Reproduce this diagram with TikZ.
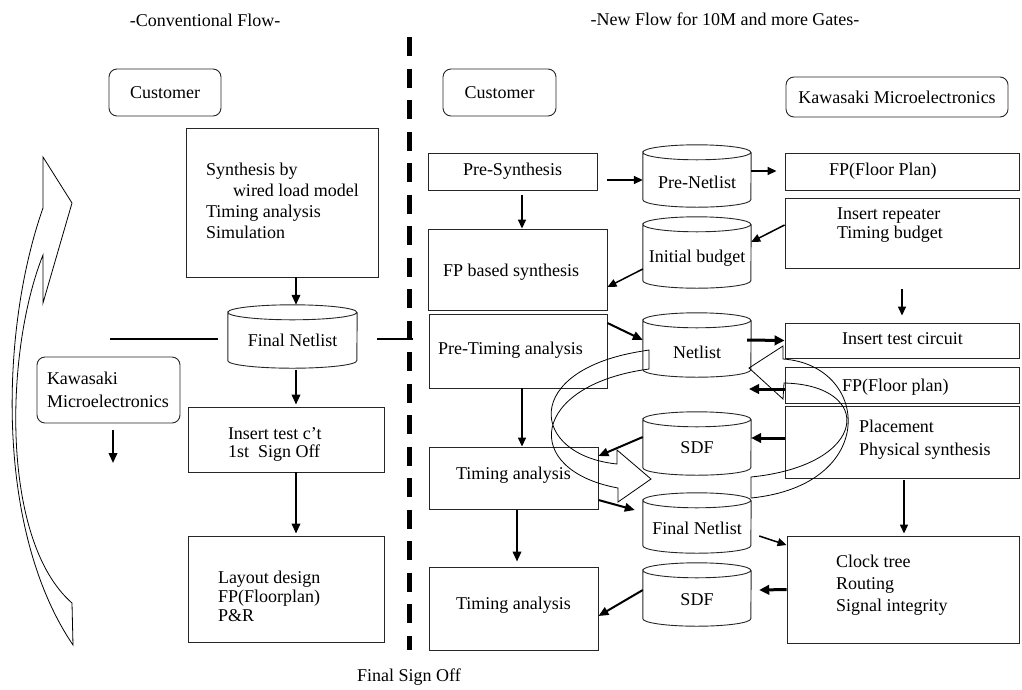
\documentclass[tikz,border=0pt]{standalone}
\usepackage{fontspec}
\setmainfont{Liberation Serif}
\usetikzlibrary{arrows.meta}
\newcommand\boxtxt[4]{\raisebox{#1}[\height][\depth]{\makebox[#2][l]{\renewcommand\arraystretch{#3}\begin{tabular}{@{}l@{}}#4\end{tabular}}}}
\newcommand\shtxt[2]{\raisebox{#1}[\height][\depth]{#2}}
\newcommand\drawcyl[2]{\draw[cylline] ([yshift=-7.5pt]#1.north west) arc[start angle=180,end angle=-180,x radius=#2,y radius=7.5pt] -- ([yshift=7.5pt]#1.south west) arc[start angle=180,end angle=360,x radius=#2,y radius=7.5pt] -- ([yshift=-7.5pt]#1.north east);}
\tikzset{
 lbl/.style={font=\fontsize{18}{21}\selectfont, inner sep=0pt},
 mybox/.style={lbl, draw=black!85, line width=0.9pt, rectangle},
 myrbox/.style={mybox, rounded corners=8pt},
 cylnode/.style={lbl, rectangle},
 cylline/.style={draw=black!85, line width=0.9pt},
 arr/.style={line width=1.5pt, -{Triangle[length=9pt,width=8pt]}},
 arrm/.style={line width=2pt, -{Triangle[length=10pt,width=8.5pt]}},
 arrk/.style={line width=3pt, -{Triangle[length=10pt,width=9.5pt]}},
 loopline/.style={line width=0.8pt, line join=miter},
 dashline/.style={line width=5pt, dash pattern=on 19pt off 12.5pt},
 hline/.style={line width=1.6pt},
}
\begin{document}
\begin{tikzpicture}[x=1pt,y=-1pt]
\useasboundingbox (0,0) rectangle (1022,689);
% titles
\node[lbl] (titleL) at (205,20) {-Conventional Flow-};
\node[lbl] (titleR) at (725,19) {-New Flow for 10M and more Gates-};
% divider
\coordinate (dtop) at (409,37);
\coordinate (dbot) at (409,650);
\draw[dashline] (dtop) -- (dbot);
% left column
\node[myrbox, minimum width=112pt, minimum height=47pt] (custL) at (165,92.5) {Customer};
\node[mybox, minimum width=192pt, minimum height=149pt] (synth) at (282,202.5) {\boxtxt{0pt}{152pt}{1.0}{Synthesis by\\\hspace*{27pt}wired load model\\Timing analysis\\Simulation}};
\node[cylnode, minimum width=129pt, minimum height=63pt] (fnL) at (292.5,336.5) {\shtxt{-3.5pt}{Final Netlist}};
\drawcyl{fnL}{64.5pt}
\node[myrbox, minimum width=143pt, minimum height=66pt] (kawL) at (108.5,390) {\boxtxt{-1.5pt}{123pt}{1.1}{Kawasaki\\Microelectronics}};
\node[mybox, minimum width=196pt, minimum height=65pt] (insL) at (286,439.5) {\boxtxt{-5.5pt}{116pt}{0.87}{Insert test c’t\\1st\ \ Sign Off}};
\node[mybox, minimum width=196pt, minimum height=106pt] (layL) at (286,589) {\boxtxt{-10pt}{136pt}{0.9}{Layout design\\FP(Floorplan)\\P\&R}};
\node[lbl] (signoff) at (409,677) {Final Sign Off};
\coordinate (hl1) at (110,339); \coordinate (hl2) at (218,339);
\coordinate (hr1) at (377,339); \coordinate (hr2) at (413,339);
\draw[hline] (hl1) -- (hl2);
\draw[hline] (hr1) -- (hr2);
\draw[arrm] ([xshift=3.5pt]fnL.north |- synth.south) -- ([xshift=3.5pt]fnL.north);
\draw[arrm] ([shift={(3.5pt,-2pt)}]fnL.south) -- ([shift={(3.5pt,2pt)}]fnL.south |- insL.north);
\draw[arrm] ([xshift=3.5pt]fnL.south |- insL.south) -- ([shift={(3.5pt,2pt)}]fnL.south |- layL.north);
\coordinate (kawEnd) at (113,463);
\draw[arrm] ([shift={(4.5pt,-7pt)}]kawL.south) -- (kawEnd);
% left curved arrow
\draw[loopline] (43,208) -- (43,157) -- (72,203) -- (43,303) -- (43,255)
  .. controls (5,350) and (0,540) .. (72,603) -- (73,645)
  .. controls (-5,530) and (0,330) .. (43,208) -- cycle;
% right column
\node[myrbox, minimum width=113pt, minimum height=47pt] (custR) at (499.5,92.5) {Customer};
\node[myrbox, minimum width=222pt, minimum height=40pt] (kawR) at (897,97) {Kawasaki Microelectronics};
\node[mybox, minimum width=169pt, minimum height=37pt] (preS) at (512.5,171.5) {Pre-Synthesis};
\node[cylnode, minimum width=108pt, minimum height=62pt] (preN) at (697,176) {\shtxt{-6pt}{Pre-Netlist}};
\drawcyl{preN}{54pt}
\node[mybox, minimum width=234pt, minimum height=37pt] (fp1) at (902,171.5) {\boxtxt{0pt}{146pt}{1}{FP(Floor Plan)}};
\node[mybox, minimum width=234pt, minimum height=70pt] (insrep) at (902,233) {\boxtxt{8pt}{130pt}{0.95}{Insert repeater\\Timing budget}};
\node[mybox, minimum width=179pt, minimum height=81pt] (fpsyn) at (517.5,269.5) {\boxtxt{-2.5pt}{149pt}{1}{FP based synthesis}};
\node[cylnode, minimum width=108pt, minimum height=71pt] (ib) at (697,252.5) {\shtxt{-5.5pt}{Initial budget}};
\drawcyl{ib}{54pt}
\node[mybox, minimum width=178pt, minimum height=74pt] (ptim) at (518,351) {\boxtxt{1pt}{160pt}{1}{Pre-Timing analysis}};
\node[cylnode, minimum width=108pt, minimum height=64pt] (net) at (697,345) {\shtxt{-7pt}{Netlist}};
\drawcyl{net}{54pt}
\node[mybox, minimum width=169pt, minimum height=62pt] (tim1) at (513.5,478) {\shtxt{3pt}{Timing analysis}};
\node[cylnode, minimum width=108pt, minimum height=63pt] (sdf1) at (697,443.5) {\shtxt{-4.5pt}{SDF}};
\drawcyl{sdf1}{54pt}
\node[cylnode, minimum width=108pt, minimum height=60pt] (fn2) at (697,523) {\shtxt{-5pt}{Final Netlist}};
\drawcyl{fn2}{54pt}
\node[mybox, minimum width=169pt, minimum height=83pt] (tim2) at (513.5,608.5) {\shtxt{3.5pt}{Timing analysis}};
\node[cylnode, minimum width=108pt, minimum height=63pt] (sdf2) at (697,594.5) {\shtxt{-5.5pt}{SDF}};
\drawcyl{sdf2}{54pt}
\node[mybox, minimum width=234pt, minimum height=35pt] (instc) at (902,340.5) {\boxtxt{0pt}{120pt}{1}{Insert test circuit}};
\node[mybox, minimum width=234pt, minimum height=36pt] (fp2) at (902,385) {\boxtxt{-2pt}{120pt}{1}{FP(Floor plan)}};
\node[mybox, minimum width=234pt, minimum height=72pt] (place) at (902,442) {\boxtxt{2.5pt}{86pt}{1.1}{Placement\\Physical synthesis}};
\node[mybox, minimum width=232pt, minimum height=107pt] (clk) at (903,589.5) {\boxtxt{4.5pt}{134pt}{1.05}{Clock tree\\Routing\\Signal integrity}};
% right arrows
\draw[arr] ([shift={(10pt,-8.5pt)}]preS.east) -- ([yshift=-4pt]preN.west);
\draw[arr] ([yshift=5pt]preN.east) -- ([shift={(-8pt,0.5pt)}]fp1.west);
\draw[arr] ([shift={(9.5pt,-5pt)}]preS.south) -- ([xshift=4.5pt]fpsyn.north);
\draw[arr] ([yshift=8pt]insrep.west) -- ([yshift=10.5pt]ib.east);
\draw[arr] ([yshift=-16.5pt]ib.west) -- ([yshift=-17.5pt]fpsyn.east);
\draw[arr] ([yshift=-21pt]insrep.south) -- ([yshift=7pt]instc.north);
\draw[arrm] ([yshift=28pt]ptim.east) -- ([yshift=5pt]net.west);
\draw[arrk] ([shift={(-4pt,5pt)}]net.east) -- (instc.west);
\coordinate (fpend) at (749,389);
\draw[arrk] ([yshift=-4pt]fp2.west) -- (fpend);
\draw[arrk] ([yshift=4pt]place.west) -- ([yshift=5.5pt]sdf1.east);
\draw[arr] ([xshift=4pt]ptim.south) -- ([xshift=8.5pt]tim1.north);
\draw[arrm] ([yshift=6.5pt]sdf1.west) -- ([yshift=22pt]tim1.east);
\draw[arrm] ([yshift=-22pt]tim1.east) -- ([shift={(-8pt,13pt)}]fn2.west);
\draw[arrm] ([shift={(3.5pt,-1pt)}]tim1.south) -- ([shift={(3.5pt,5pt)}]tim2.north);
\draw[arr] ([shift={(8pt,-13pt)}]fn2.east) -- ([yshift=44.5pt]clk.west);
\draw[arr] ([shift={(2pt,-2pt)}]place.south) -- ([shift={(1pt,2pt)}]clk.north);
\draw[arrk] (clk.west) -- ([shift={(8pt,4.5pt)}]sdf2.east);
\draw[arrm] ([yshift=4.5pt]sdf2.west) -- ([yshift=-7.5pt]tim2.east);
% loop arrows
\draw[loopline] (643,351) -- (649,350) -- (649,369)
  .. controls (530,385) and (520,470) .. (618,488) -- (618,502) -- (651,479) -- (617,450) -- (617,464)
  .. controls (530,455) and (520,370) .. (643,351) -- cycle;
\draw[loopline] (749,368) -- (783,346) -- (783,359)
  .. controls (870,365) and (880,485) .. (751,498) -- (751,477)
  .. controls (870,465) and (875,385) .. (784,383) -- (783,399) -- cycle;
\end{tikzpicture}
\end{document}
